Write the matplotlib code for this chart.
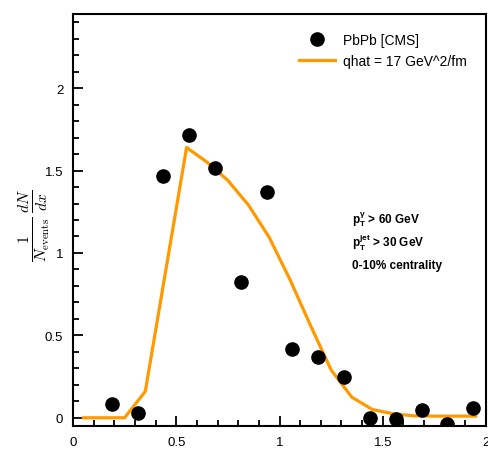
import matplotlib
matplotlib.use('Agg')
import matplotlib.pyplot as plt
from matplotlib.ticker import MultipleLocator

plt.rcParams['font.family'] = ['Liberation Sans', 'DejaVu Sans']
plt.rcParams['mathtext.fontset'] = 'custom'
plt.rcParams['mathtext.rm'] = 'Liberation Sans:bold'
plt.rcParams['mathtext.bf'] = 'Liberation Sans:bold'
plt.rcParams['mathtext.it'] = 'Liberation Sans:bold'

# CMS PbPb data (bin centres)
data_x = [0.1875, 0.3125, 0.4375, 0.5625, 0.6875, 0.8125, 0.9375, 1.0625,
          1.1875, 1.3125, 1.4375, 1.5625, 1.6875, 1.8125, 1.9375]
data_y = [0.085, 0.03, 1.47, 1.715, 1.515, 0.825, 1.37, 0.42,
          0.37, 0.25, 0.0, -0.005, 0.05, -0.035, 0.06]

# model curve, qhat = 17 GeV^2/fm
model_x = [0.05, 0.15, 0.25, 0.35, 0.45, 0.55, 0.65, 0.75, 0.85, 0.95,
           1.05, 1.15, 1.25, 1.35, 1.45, 1.55, 1.65, 1.75, 1.85, 1.95]
model_y = [0.0, 0.0, 0.0, 0.16, 0.90, 1.64, 1.55, 1.44, 1.29, 1.095,
           0.84, 0.56, 0.29, 0.125, 0.05, 0.024, 0.012, 0.01, 0.01, 0.01]

fig = plt.figure(figsize=(4.88, 4.52), dpi=100)
ax = fig.add_axes([0.1496, 0.0553, 0.8464, 0.9115])

ax.plot(data_x, data_y, 'o', color='black', markersize=9.5, label='PbPb [CMS]', zorder=3)
ax.plot(model_x, model_y, '-', color='#ff9900', linewidth=2.3,
        label='qhat = 17 GeV^2/fm', zorder=2)

ax.set_xlim(0, 2)
ax.set_ylim(-0.05, 2.45)
ax.xaxis.set_minor_locator(MultipleLocator(0.1))
ax.yaxis.set_minor_locator(MultipleLocator(0.1))
ax.set_xticks([0, 0.5, 1, 1.5, 2])
ax.set_xticklabels(['0', '0.5', '1', '1.5', '2'])
ax.set_yticks([0, 0.5, 1, 1.5, 2])
ax.set_yticklabels(['0', '0.5', '1', '1.5', '2'])

ax.tick_params(which='both', direction='in', top=False, right=False, labelsize=9.5, width=1.3)
ax.tick_params(which='major', length=7.5, pad=7)
ax.tick_params(which='minor', length=4)
for sp in ax.spines.values():
    sp.set_linewidth(1.5)

ax.set_ylabel(r'$\frac{1}{N_{\mathrm{events}}}\,\frac{dN}{dx}$', fontsize=16,
              math_fontfamily='cm')
ax.yaxis.set_label_coords(-0.05, 0.49)

ax.legend(loc='upper right', bbox_to_anchor=(0.985, 0.985), frameon=False,
          fontsize=10, handlelength=2.6, handletextpad=0.6, labelspacing=0.55)

ax.text(0.675, 0.495, r'p$_T^{\gamma}$ > 60 GeV', transform=ax.transAxes,
        fontsize=8.5, fontweight='bold')
ax.text(0.675, 0.435, r'p$_T^{jet}$ > 30 GeV', transform=ax.transAxes,
        fontsize=8.5, fontweight='bold')
ax.text(0.675, 0.383, '0-10% centrality', transform=ax.transAxes,
        fontsize=8.5, fontweight='bold')

fig.savefig('out.png', dpi=100)
